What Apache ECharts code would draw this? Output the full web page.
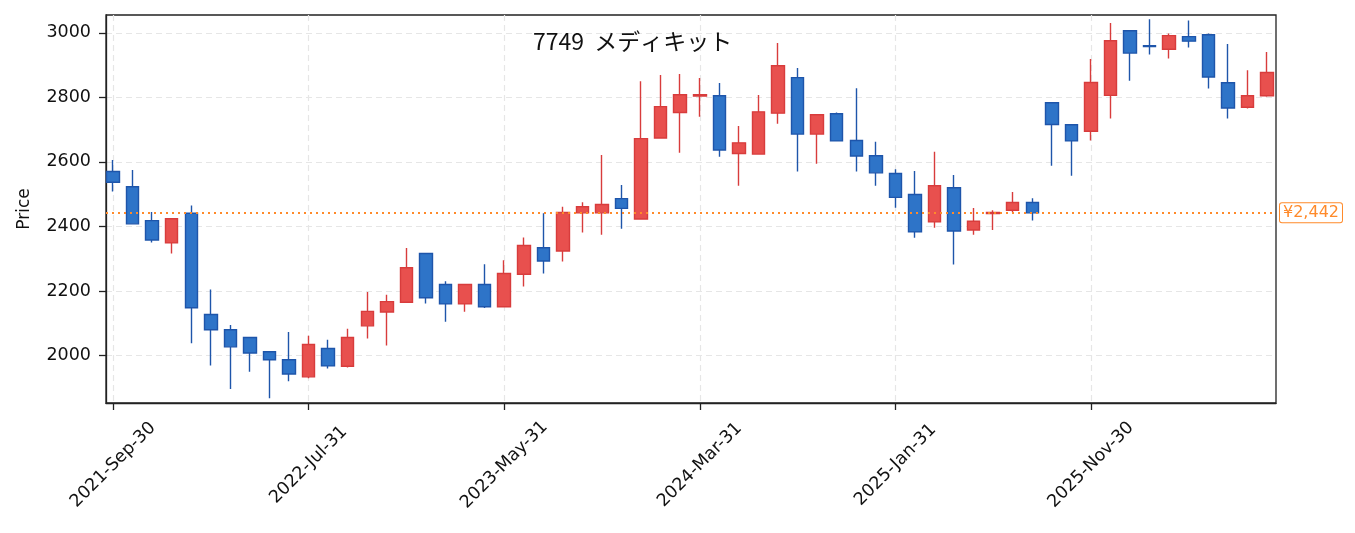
<!DOCTYPE html>
<html>
<head>
<meta charset="utf-8">
<script src="https://cdn.jsdelivr.net/npm/echarts@6/dist/echarts.min.js"></script>
<style>
  html, body { margin: 0; padding: 0; background: #fff; }
  #chart { width: 1355px; height: 533px; }
</style>
</head>
<body>
<div id="chart"></div>
<script>
// monthly candles, 7749 メディキット
var dates = [
  '2021-Sep-30','2021-Oct-31','2021-Nov-30','2021-Dec-31',
  '2022-Jan-31','2022-Feb-28','2022-Mar-31','2022-Apr-30','2022-May-31','2022-Jun-30',
  '2022-Jul-31','2022-Aug-31','2022-Sep-30','2022-Oct-31','2022-Nov-30','2022-Dec-31',
  '2023-Jan-31','2023-Feb-28','2023-Mar-31','2023-Apr-30','2023-May-31','2023-Jun-30',
  '2023-Jul-31','2023-Aug-31','2023-Sep-30','2023-Oct-31','2023-Nov-30','2023-Dec-31',
  '2024-Jan-31','2024-Feb-29','2024-Mar-31','2024-Apr-30','2024-May-31','2024-Jun-30',
  '2024-Jul-31','2024-Aug-31','2024-Sep-30','2024-Oct-31','2024-Nov-30','2024-Dec-31',
  '2025-Jan-31','2025-Feb-28','2025-Mar-31','2025-Apr-30','2025-May-31','2025-Jun-30',
  '2025-Jul-31','2025-Aug-31','2025-Sep-30','2025-Oct-31','2025-Nov-30','2025-Dec-31',
  '2026-Jan-31','2026-Feb-28','2026-Mar-31','2026-Apr-30','2026-May-31','2026-Jun-30',
  '2026-Jul-31','2026-Aug-31'
];
var opens = [
  2570,2523,2418,2349,2441,2127,2080,2056,2012,1987,
  1934,2022,1967,2092,2135,2165,2316,2220,2160,2220,
  2151,2252,2334,2324,2442,2442,2486,2423,2674,2753,
  2804,2805,2626,2624,2751,2861,2686,2749,2666,2619,
  2564,2499,2414,2520,2389,2440,2450,2474,2783,2715,
  2695,2806,3006,2960,2949,2988,2994,2845,2769,2805
];
var closes = [
  2537,2408,2358,2424,2148,2080,2027,2008,1987,1943,
  2034,1968,2056,2137,2167,2272,2179,2160,2220,2151,
  2254,2341,2293,2443,2461,2468,2456,2672,2771,2808,
  2808,2637,2659,2755,2898,2686,2746,2665,2618,2566,
  2490,2383,2526,2386,2416,2443,2474,2442,2716,2665,
  2846,2975,2937,2957,2991,2974,2863,2767,2805,2877
];
var lows = [
  2508,2406,2350,2316,2038,1969,1896,1950,1868,1920,
  1930,1960,1963,2053,2031,2163,2161,2105,2136,2147,
  2150,2214,2254,2291,2381,2374,2393,2422,2673,2628,
  2740,2616,2526,2623,2718,2570,2594,2664,2570,2526,
  2458,2365,2396,2282,2374,2389,2444,2418,2588,2557,
  2666,2734,2851,2933,2920,2954,2827,2734,2765,2802
];
var highs = [
  2606,2575,2445,2425,2465,2205,2095,2057,2014,2073,
  2061,2049,2083,2197,2188,2333,2317,2230,2221,2283,
  2295,2366,2441,2461,2475,2621,2528,2850,2869,2872,
  2860,2844,2711,2807,2968,2891,2747,2753,2828,2662,
  2577,2572,2631,2559,2457,2450,2507,2487,2784,2716,
  2919,3030,3007,3042,2998,3038,2998,2965,2884,2940
];
var xTicks = [0, 10, 20, 30, 40, 50];   // index into dates
var yTicks = [2000, 2200, 2400, 2600, 2800, 3000];
var refPrice = 2442;
var chartTitle = '7749  メディキット';

var kdata = [];
for (var i = 0; i < dates.length; i++) {
    kdata.push([i, opens[i], closes[i], lows[i], highs[i]]);
}

var font = '"DejaVu Sans", sans-serif';
var jpFont = '"Noto Sans CJK JP", sans-serif';
var chart = echarts.init(document.getElementById('chart'), null, {renderer: 'canvas'});

var option = {
    animation: false,
    backgroundColor: '#fff',
    textStyle: {fontFamily: font},
    title: {
        text: chartTitle,
        left: 528,
        top: 25,
        textStyle: {fontFamily: jpFont, fontSize: 23, fontWeight: 'normal', color: '#111'}
    },
    grid: {
        left: 106, right: 79, top: 15, bottom: 130,
        show: true, borderColor: '#222', borderWidth: 1.3, backgroundColor: 'transparent'
    },
    xAxis: {
        type: 'value',
        min: -0.36,
        max: 59.46,
        axisLine: {show: true, onZero: false, lineStyle: {color: '#222', width: 1.3}},
        axisTick: {show: true, length: 7, customValues: xTicks, lineStyle: {color: '#222', width: 1.3}},
        axisLabel: {
            customValues: xTicks, rotate: 45, fontSize: 17.5, color: '#111', margin: 62,
            align: 'center', verticalAlign: 'middle', fontFamily: font,
            formatter: function (v) { return dates[Math.round(v)]; }
        },
        splitLine: {show: true, lineStyle: {color: '#e6e6e6', type: [6, 4], width: 1.2}}
    },
    yAxis: {
        type: 'value',
        min: 1853,
        max: 3055,
        name: 'Price',
        nameLocation: 'middle',
        nameGap: 73,
        nameTextStyle: {fontSize: 17, color: '#111', fontFamily: font},
        axisLine: {show: true, onZero: false, lineStyle: {color: '#222', width: 1.3}},
        axisTick: {show: true, length: 7, customValues: yTicks, lineStyle: {color: '#222', width: 1.3}},
        axisLabel: {
            customValues: yTicks, fontSize: 17.5, color: '#111', margin: 15, fontFamily: font,
            formatter: function (v) { return String(v); }
        },
        splitLine: {show: true, lineStyle: {color: '#e6e6e6', type: [6, 4], width: 1.2}}
    },
    series: [{
        type: 'candlestick',
        data: kdata,
        encode: {x: 0, y: [1, 2, 3, 4]},
        barWidth: 13,
        itemStyle: {
            color: '#e8504e',
            color0: '#2e74c8',
            borderColor: '#d83c3c',
            borderColor0: '#1e55aa',
            borderWidth: 1.4
        },
        markLine: {
            silent: true,
            symbol: 'none',
            lineStyle: {color: '#ff8a2a', type: [2, 4], width: 2},
            label: {
                position: 'end',
                formatter: '¥2,442',
                color: '#ff8a2a',
                fontSize: 16,
                fontFamily: font,
                backgroundColor: '#fff',
                borderColor: '#ff8a2a',
                borderWidth: 1,
                borderRadius: 2,
                padding: [2, 3, 1, 3],
                distance: 4
            },
            data: [{yAxis: refPrice}]
        }
    }]
};
chart.setOption(option);
</script>
</body>
</html>
